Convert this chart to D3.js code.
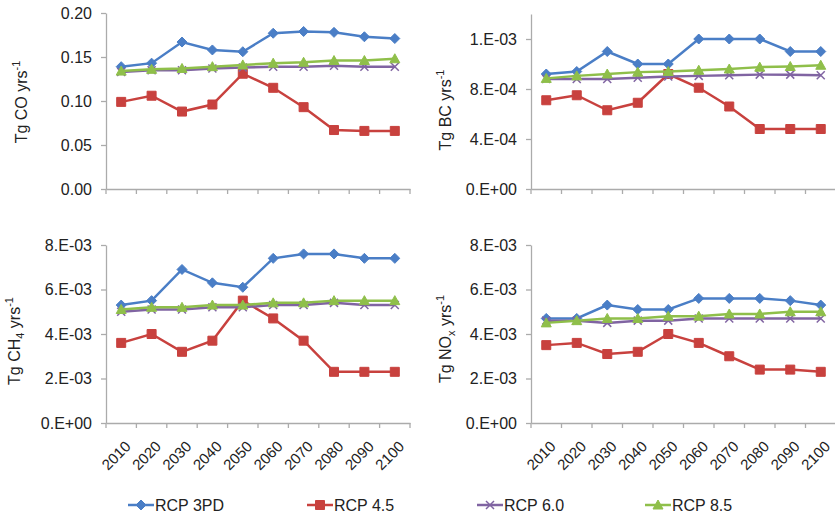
<!DOCTYPE html>
<html>
<head>
<meta charset="utf-8">
<script src="https://cdn.jsdelivr.net/npm/d3@7"></script>
<style>
  body { margin: 0; background: #fff; }
  svg { display: block; font-family: Arial, "Liberation Sans", sans-serif; }
</style>
</head>
<body>
<div id="viz"></div>
<script>
const years = ['2010', '2020', '2030', '2040', '2050', '2060', '2070', '2080', '2090', '2100'];
const seriesNames = ['RCP 3PD', 'RCP 4.5', 'RCP 6.0', 'RCP 8.5'];

// CO (Tg/yr)
const co3pd = [0.139, 0.143, 0.167, 0.158, 0.156, 0.177, 0.179, 0.178, 0.173, 0.171];
const co45  = [0.099, 0.106, 0.088, 0.096, 0.131, 0.115, 0.093, 0.067, 0.066, 0.066];
const co60  = [0.133, 0.135, 0.135, 0.137, 0.138, 0.139, 0.139, 0.140, 0.139, 0.139];
const co85  = [0.134, 0.136, 0.137, 0.139, 0.141, 0.143, 0.144, 0.146, 0.146, 0.148];

// BC
const bc3pd = [9.2e-4, 9.4e-4, 1.1e-3, 1.0e-3, 1.0e-3, 1.2e-3, 1.2e-3, 1.2e-3, 1.1e-3, 1.1e-3];
const bc45  = [7.1e-4, 7.5e-4, 6.3e-4, 6.9e-4, 9.2e-4, 8.1e-4, 6.6e-4, 4.8e-4, 4.8e-4, 4.8e-4];
const bc60  = [8.8e-4, 8.8e-4, 8.8e-4, 8.9e-4, 9.0e-4, 9.05e-4, 9.1e-4, 9.15e-4, 9.15e-4, 9.1e-4];
const bc85  = [8.85e-4, 9.05e-4, 9.2e-4, 9.35e-4, 9.4e-4, 9.5e-4, 9.6e-4, 9.75e-4, 9.8e-4, 9.9e-4];

// CH4
const ch43pd = [5.3e-3, 5.5e-3, 6.9e-3, 6.3e-3, 6.1e-3, 7.4e-3, 7.6e-3, 7.6e-3, 7.4e-3, 7.4e-3];
const ch445  = [3.6e-3, 4.0e-3, 3.2e-3, 3.7e-3, 5.5e-3, 4.7e-3, 3.7e-3, 2.3e-3, 2.3e-3, 2.3e-3];
const ch460  = [5.0e-3, 5.1e-3, 5.1e-3, 5.2e-3, 5.2e-3, 5.3e-3, 5.3e-3, 5.4e-3, 5.3e-3, 5.3e-3];
const ch485  = [5.1e-3, 5.2e-3, 5.2e-3, 5.3e-3, 5.3e-3, 5.4e-3, 5.4e-3, 5.5e-3, 5.5e-3, 5.5e-3];

// NOx
const nox3pd = [4.7e-3, 4.7e-3, 5.3e-3, 5.1e-3, 5.1e-3, 5.6e-3, 5.6e-3, 5.6e-3, 5.5e-3, 5.3e-3];
const nox45  = [3.5e-3, 3.6e-3, 3.1e-3, 3.2e-3, 4.0e-3, 3.6e-3, 3.0e-3, 2.4e-3, 2.4e-3, 2.3e-3];
const nox60  = [4.6e-3, 4.6e-3, 4.5e-3, 4.6e-3, 4.6e-3, 4.7e-3, 4.7e-3, 4.7e-3, 4.7e-3, 4.7e-3];
const nox85  = [4.5e-3, 4.6e-3, 4.7e-3, 4.7e-3, 4.8e-3, 4.8e-3, 4.9e-3, 4.9e-3, 5.0e-3, 5.0e-3];

const coTicks  = [0, 0.05, 0.10, 0.15, 0.20];
const bcTicks  = [0, 4e-4, 8e-4, 1.2e-3];
const ch4Ticks = [0, 2e-3, 4e-3, 6e-3, 8e-3];
const noxTicks = [0, 2e-3, 4e-3, 6e-3, 8e-3];

const width = 835, height = 517;
const colors = ['#4a7ec6', '#c8413e', '#8064a2', '#8fbf4a'];
const axisColor = '#ababab';

// excel style "0.E+00"
const sciFmt = v => {
    const [m, e] = v.toExponential(0).split('e');
    const n = Math.abs(+e);
    return m + '.E' + (+e < 0 ? '-' : '+') + (n < 10 ? '0' + n : n);
};

const markerPaths = [
    'M0,-5L5,0L0,5L-5,0Z',
    'M-4.5,-4.5H4.5V4.5H-4.5Z',
    'M-4,-4L4,4M-4,4L4,-4',
    'M0,-5L5,4L-5,4Z'
];

const panels = [
    {series: [co3pd, co45, co60, co85], ticks: coTicks, max: 0.2, fmt: d3.format('.2f'),
     x0: 106, x1: 410, top: 13, bottom: 189, title: ['Tg CO', null, ' yrs'], tx: 27, ty: 102, yearLabels: false},
    {series: [bc3pd, bc45, bc60, bc85], ticks: bcTicks, max: 1.4e-3, fmt: sciFmt,
     x0: 531, x1: 836, top: 14, bottom: 189, title: ['Tg BC', null, ' yrs'], tx: 451, ty: 110, yearLabels: false},
    {series: [ch43pd, ch445, ch460, ch485], ticks: ch4Ticks, max: 8e-3, fmt: sciFmt,
     x0: 106, x1: 410, top: 245, bottom: 423, title: ['Tg CH', '4', ' yrs'], tx: 20, ty: 341, yearLabels: true},
    {series: [nox3pd, nox45, nox60, nox85], ticks: noxTicks, max: 8e-3, fmt: sciFmt,
     x0: 531, x1: 836, top: 245, bottom: 423, title: ['Tg NO', 'x', ' yrs'], tx: 451, ty: 339, yearLabels: true}
];

const svg = d3.select('#viz')
    .append('svg')
    .attr('width', width)
    .attr('height', height);

panels.forEach(p => {
    const xScale = d3.scaleBand().domain(years).range([p.x0, p.x1]);
    const yScale = d3.scaleLinear().domain([0, p.max]).range([p.bottom, p.top]);
    const g = svg.append('g');

    // y axis
    const yAxis = g.append('g')
        .attr('transform', `translate(${p.x0},0)`)
        .call(d3.axisLeft(yScale).tickValues(p.ticks).tickFormat(p.fmt).tickSize(5).tickSizeOuter(0).tickPadding(9));
    yAxis.select('.domain').attr('stroke', axisColor).attr('stroke-width', 1.3);
    yAxis.selectAll('.tick line').attr('stroke', axisColor).attr('stroke-width', 1.3);
    yAxis.selectAll('.tick text').attr('fill', '#222').style('font-size', '16px');

    // x axis
    const xAxis = g.append('g')
        .attr('transform', `translate(0,${p.bottom})`)
        .call(d3.axisBottom(xScale).tickSize(0).tickSizeOuter(0).tickFormat(''));
    xAxis.select('.domain').attr('stroke', axisColor).attr('stroke-width', 1.3);
    xAxis.selectAll('.tick').remove();
    // excel style ticks at band edges
    g.selectAll('.xtick')
        .data(years.concat(['end']))
        .enter()
        .append('line')
        .attr('x1', (d, i) => p.x0 + i * xScale.bandwidth())
        .attr('x2', (d, i) => p.x0 + i * xScale.bandwidth())
        .attr('y1', p.bottom)
        .attr('y2', p.bottom + 5)
        .attr('stroke', axisColor)
        .attr('stroke-width', 1.3);

    if (p.yearLabels) {
        g.selectAll('.year')
            .data(years)
            .enter()
            .append('text')
            .attr('transform', d => `translate(${xScale(d) + xScale.bandwidth() / 2 + 3},${p.bottom + 17}) rotate(-45)`)
            .attr('text-anchor', 'end')
            .attr('dy', '0.7em')
            .attr('fill', '#222')
            .style('font-size', '15px')
            .text(d => d);
    }

    // y title
    const t = g.append('text')
        .attr('transform', `translate(${p.tx},${p.ty}) rotate(-90)`)
        .attr('text-anchor', 'middle')
        .attr('fill', '#222')
        .style('font-size', '16px');
    t.append('tspan').text(p.title[0]);
    if (p.title[1]) t.append('tspan').attr('dy', 4).style('font-size', '11px').text(p.title[1]);
    t.append('tspan').attr('dy', p.title[1] ? -4 : 0).text(p.title[2]);
    t.append('tspan').attr('dy', -7).style('font-size', '11px').text('-1');

    // lines + markers
    const line = d3.line()
        .x((d, i) => xScale(years[i]) + xScale.bandwidth() / 2)
        .y(d => yScale(d));

    p.series.forEach((values, s) => {
        g.append('path')
            .datum(values)
            .attr('fill', 'none')
            .attr('stroke', colors[s])
            .attr('stroke-width', 2.5)
            .attr('d', line);
        g.selectAll('.m' + s)
            .data(values)
            .enter()
            .append('path')
            .attr('transform', (d, i) => `translate(${xScale(years[i]) + xScale.bandwidth() / 2},${yScale(d)})`)
            .attr('d', markerPaths[s])
            .attr('fill', s === 2 ? 'none' : colors[s])
            .attr('stroke', colors[s])
            .attr('stroke-width', s === 2 ? 1.5 : 1);
    });
});

// legend
const legendX = [128, 307, 477, 645];
const legendY = 505;
const legend = svg.selectAll('.legend')
    .data(seriesNames)
    .enter()
    .append('g')
    .attr('transform', (d, i) => `translate(${legendX[i]},${legendY})`);
legend.append('line')
    .attr('x1', 0).attr('x2', 26)
    .attr('stroke', (d, i) => colors[i])
    .attr('stroke-width', 2.5);
legend.append('path')
    .attr('transform', 'translate(13,0)')
    .attr('d', (d, i) => markerPaths[i])
    .attr('fill', (d, i) => i === 2 ? 'none' : colors[i])
    .attr('stroke', (d, i) => colors[i])
    .attr('stroke-width', (d, i) => i === 2 ? 1.5 : 1);
legend.append('text')
    .attr('x', 27)
    .attr('dy', '0.35em')
    .attr('fill', '#222')
    .style('font-size', '16px')
    .text(d => d);
</script>
</body>
</html>
